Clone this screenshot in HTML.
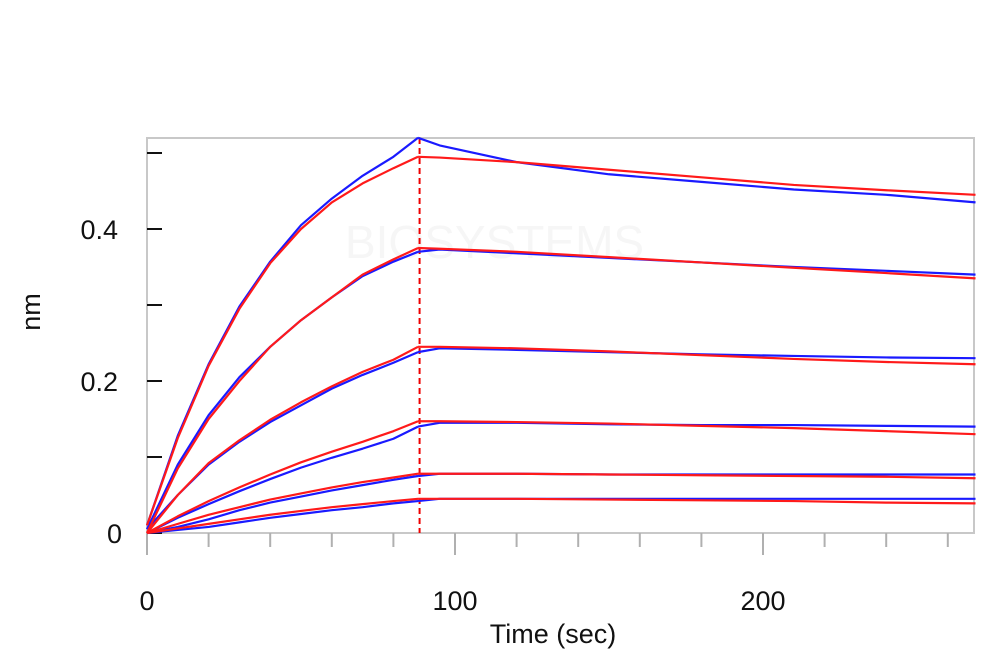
<!DOCTYPE html>
<html><head><meta charset="utf-8"><style>
html,body{margin:0;padding:0;background:#fff;}
svg{display:block;font-family:"Liberation Sans",sans-serif;}
</style></head><body>
<svg id="chart" width="1000" height="670">
<g id="g"></g>
</svg>
<script>
const assocTimes=[0,10,20,30,40,50,60,70,80,88];
const dissocTimes=[88,95,120,150,180,210,240,269];
const fitAssoc=[[0.01,0.125,0.22,0.295,0.355,0.40,0.435,0.46,0.48,0.495],[0,0.085,0.15,0.2,0.245,0.28,0.31,0.34,0.36,0.375],[0,0.05,0.092,0.122,0.149,0.172,0.193,0.212,0.228,0.245],[0,0.022,0.042,0.06,0.077,0.093,0.107,0.12,0.134,0.147],[0,0.012,0.024,0.034,0.044,0.052,0.06,0.067,0.073,0.078],[0,0.006,0.012,0.018,0.024,0.029,0.034,0.038,0.042,0.045]];
const dataAssoc=[[0.01,0.128,0.222,0.298,0.357,0.405,0.44,0.47,0.495,0.52],[0.005,0.09,0.155,0.205,0.245,0.28,0.31,0.338,0.357,0.37],[0.005,0.05,0.09,0.12,0.146,0.168,0.19,0.208,0.224,0.238],[0,0.02,0.038,0.055,0.071,0.086,0.099,0.111,0.124,0.14],[0,0.008,0.018,0.03,0.04,0.048,0.056,0.063,0.07,0.075],[0,0.004,0.008,0.014,0.02,0.025,0.03,0.034,0.039,0.042]];
const fitDissoc=[[0.495,0.494,0.488,0.478,0.468,0.458,0.451,0.445],[0.375,0.374,0.37,0.363,0.356,0.349,0.342,0.335],[0.245,0.245,0.243,0.239,0.234,0.229,0.225,0.222],[0.147,0.147,0.146,0.144,0.141,0.138,0.134,0.13],[0.078,0.078,0.078,0.077,0.076,0.075,0.074,0.072],[0.045,0.045,0.045,0.044,0.043,0.042,0.04,0.039]];
const dataDissoc=[[0.52,0.51,0.488,0.472,0.462,0.452,0.445,0.435],[0.37,0.373,0.368,0.362,0.356,0.35,0.345,0.34],[0.238,0.243,0.241,0.238,0.235,0.233,0.231,0.23],[0.14,0.145,0.145,0.143,0.142,0.142,0.141,0.14],[0.075,0.078,0.078,0.077,0.077,0.077,0.077,0.077],[0.042,0.045,0.045,0.045,0.045,0.045,0.045,0.045]];
const xTickLabels=[0,100,200];
const yTickLabels=[0,0.2,0.4];
const NS="http://www.w3.org/2000/svg";
const L=147,R=974,T=138,B=533;
const X=t=>L+t*3.08;
const Y=v=>B-v*760;
const g=document.getElementById('g');
function mk(tag,attrs,parent){const e=document.createElementNS(NS,tag);for(const k in attrs)e.setAttribute(k,attrs[k]);(parent||g).appendChild(e);return e;}
const wm=mk('text',{x:345,y:258,'font-size':46,fill:'#f6f6f6'});wm.textContent='BIOSYSTEMS';


const fr=mk('rect',{x:L,y:T,width:R-L,height:B-T,fill:'none',stroke:'#c8c8c8','stroke-width':2});


for(let t=0;t<=260;t+=20){const long=t%100===0;const tk=mk('line',{x1:X(t),x2:X(t),y1:B,y2:B+(long?22:14),stroke:'#b0b0b0','stroke-width':2});

}
xTickLabels.forEach(v=>{const t=mk('text',{x:X(v),y:610,'text-anchor':'middle','font-size':27,fill:'#111'});t.textContent=v;

});
for(let i=0;i<=5;i++){const v=i/10;const tk=mk('line',{x1:L,x2:L+15,y1:Y(v),y2:Y(v),stroke:'#111','stroke-width':2});

}
yTickLabels.forEach(v=>{const t=mk('text',{x:v===0?122:118,y:Y(v)+10,'text-anchor':'end','font-size':27,fill:'#111'});t.textContent=v===0?'0':v.toFixed(1);

});
const xt=mk('text',{x:553,y:643,'text-anchor':'middle','font-size':27,fill:'#111'});xt.textContent='Time (sec)';


const yt=mk('text',{x:40,y:312,'text-anchor':'middle','font-size':27,fill:'#111',transform:'rotate(-90 40 312)'});yt.textContent='nm';


const dl=mk('line',{x1:X(88.5),x2:X(88.5),y1:T,y2:B,stroke:'#e00','stroke-width':2,'stroke-dasharray':'6,4'});


function draw(times,vals,color,name){const p=mk('polyline',{points:times.map((t,i)=>X(t)+','+Y(vals[i])).join(' '),fill:'none',stroke:color,'stroke-width':2.2,'stroke-linejoin':'round'});

}
for(let s=0;s<6;s++){
draw(assocTimes,dataAssoc[s],'#1a1aff','data-association-'+(s+1));
draw(dissocTimes,dataDissoc[s],'#1a1aff','data-dissociation-'+(s+1));
}
for(let s=0;s<6;s++){
draw(assocTimes,fitAssoc[s],'#ff1a1a','fit-association-'+(s+1));
draw(dissocTimes,fitDissoc[s],'#ff1a1a','fit-dissociation-'+(s+1));
}
</script>
</body></html>
